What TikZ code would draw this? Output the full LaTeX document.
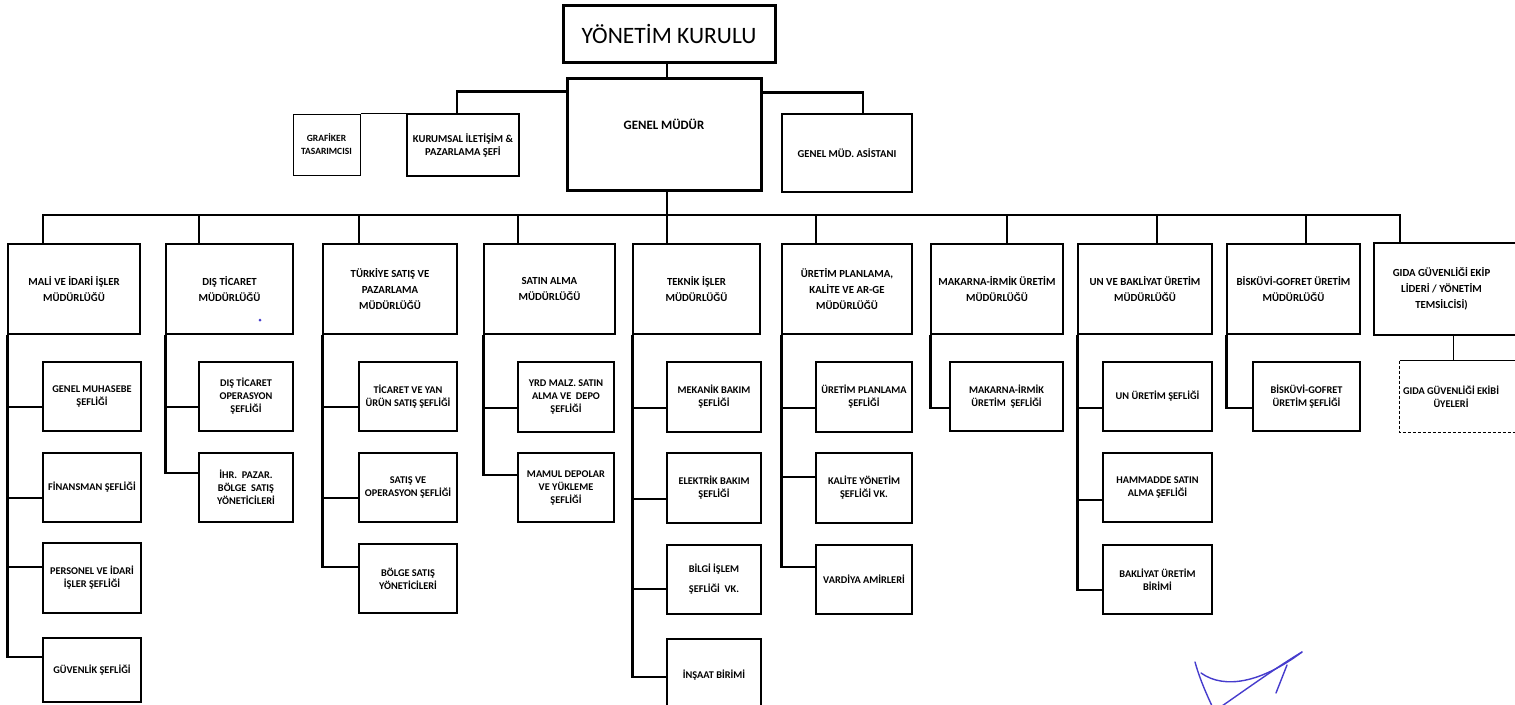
\documentclass[tikz,border=0pt]{standalone}
\usepackage{fontspec}
\setmainfont{Carlito}
\definecolor{sigblue}{RGB}{70,60,205}
\newcommand\orgbox[7]{\node[#1, minimum width={(#5-#3)*1pt}, minimum height={(#6-#4)*1pt}] (#2) at ({(#3+#5)/2},{(#4+#6)/2}) {#7};}
\newcommand\kid[3]{\draw[conn] ([xshift=1pt]#1.south west) |- (#2.west |- 0,#3);}
\begin{document}
\begin{tikzpicture}[x=1pt,y=-1pt,
  box/.style={draw, line width=2.7pt, align=center, inner sep=0pt, font=\bfseries\fontsize{10.3}{13}\selectfont},
  mgr/.style={box, font=\bfseries\fontsize{10.8}{16}\selectfont},
  thinbox/.style={box, line width=1pt},
  conn/.style={line width=2.7pt},
  thinconn/.style={line width=1pt},
  sig/.style={draw=sigblue, line width=1.4pt, line cap=round}]
\useasboundingbox (0,0) rectangle (1515,704);
\clip (0,0) rectangle (1515,704);
\fill[white] (0,0) rectangle (1515,704);

% top level
\orgbox{box, line width=3pt, font=\fontsize{23.5}{25}\selectfont}{kurulu}{563}{5}{775}{62}{YÖNETİM KURULU}
\orgbox{box, line width=3pt, font=\bfseries\fontsize{12.8}{14}\selectfont, text height=9pt, text depth=19pt}{gm}{567}{78}{761}{190}{GENEL MÜDÜR}
\orgbox{thinbox, font=\bfseries\fontsize{9.5}{13}\selectfont}{graf}{293}{114}{360}{175}{GRAFİKER\\TASARIMCISI}
\orgbox{box, font=\bfseries\fontsize{10.6}{13}\selectfont}{kurum}{407}{114}{519}{176}{KURUMSAL İLETİŞİM \&\\PAZARLAMA ŞEFİ}
\orgbox{box, line width=2.2pt, font=\bfseries\fontsize{10.6}{13}\selectfont}{asist}{782}{114}{912}{192}{GENEL MÜD. ASİSTANI}

\draw[conn] (kurulu.south -| 667,0) -- (gm.north -| 667,0);
\draw[conn] ([yshift=-15pt]gm.north west) -| ([xshift=-6pt]kurum.north);
\draw[conn] ([yshift=-16pt]gm.north east) -| ([xshift=16pt]asist.north);
\draw[thinconn] (graf.north east) -- (graf.north east -| kurum.west);

% managers
\orgbox{mgr}{mali}{8}{244}{140}{334}{MALİ VE İDARİ İŞLER\\MÜDÜRLÜĞÜ}
\orgbox{mgr}{dis}{166}{244}{293}{334}{DIŞ TİCARET\\MÜDÜRLÜĞÜ}
\orgbox{mgr}{tur}{323}{244}{457}{334}{TÜRKİYE SATIŞ VE\\PAZARLAMA\\MÜDÜRLÜĞÜ}
\orgbox{mgr}{sat}{484}{244}{615}{334}{SATIN ALMA\\MÜDÜRLÜĞÜ}
\orgbox{mgr}{tek}{633}{244}{760}{334}{TEKNİK İŞLER\\MÜDÜRLÜĞÜ}
\orgbox{mgr}{ure}{782}{244}{912}{334}{ÜRETİM PLANLAMA,\\KALİTE VE AR-GE\\MÜDÜRLÜĞÜ}
\orgbox{mgr}{mak}{931}{244}{1063}{334}{MAKARNA-İRMİK ÜRETİM\\MÜDÜRLÜĞÜ}
\orgbox{mgr}{un}{1078}{244}{1212}{334}{UN VE BAKLİYAT ÜRETİM\\MÜDÜRLÜĞÜ}
\orgbox{mgr}{bis}{1227}{244}{1360}{334}{BİSKÜVİ-GOFRET ÜRETİM\\MÜDÜRLÜĞÜ}
\orgbox{mgr, draw=none}{gida}{1375}{244}{1508}{334}{GIDA GÜVENLİĞİ EKİP\\LİDERİ / YÖNETİM\\TEMSİLCİSİ)}
\draw[line width=1.8pt] ([xshift=30pt]gida.north east) -- (gida.north west) -- (gida.south west) -- ([xshift=30pt]gida.south east);

% bus
\coordinate (bus) at (667,215);
\draw[conn] (gm.south -| bus) -- (bus);
\draw[conn] (bus) -| ([xshift=-31pt]mali.north);
\draw[conn] (bus) -| ([xshift=-30.5pt]dis.north);
\draw[conn] (bus) -| ([xshift=-31pt]tur.north);
\draw[conn] (bus) -| ([xshift=-31.5pt]sat.north);
\draw[conn] (bus) -| ([xshift=-29.5pt]tek.north);
\draw[conn] (bus) -| ([xshift=-31pt]ure.north);
\draw[conn] (bus) -| ([xshift=10pt]mak.north);
\draw[conn] (bus) -| ([xshift=12pt]un.north);
\draw[conn] (bus) -| ([xshift=12.5pt]bis.north);
\draw[conn] (bus) -| ([xshift=-41.5pt]gida.north);

% children: MALİ
\orgbox{box}{m1}{43}{362}{141}{431}{GENEL MUHASEBE\\ŞEFLİĞİ}
\orgbox{box}{m2}{43}{453}{141}{522}{FİNANSMAN ŞEFLİĞİ}
\orgbox{box}{m3}{43}{543}{141}{613}{PERSONEL VE İDARİ\\İŞLER ŞEFLİĞİ}
\orgbox{box}{m4}{43}{638}{141}{702}{GÜVENLİK ŞEFLİĞİ}
\kid{mali}{m1}{407}\kid{mali}{m2}{498}\kid{mali}{m3}{567}\kid{mali}{m4}{657}

% DIŞ
\orgbox{box}{d1}{199}{362}{293}{431}{DIŞ TİCARET\\OPERASYON\\ŞEFLİĞİ}
\orgbox{box}{d2}{199}{453}{293}{522}{İHR.\ \ PAZAR.\\BÖLGE\ \ SATIŞ\\YÖNETİCİLERİ}
\kid{dis}{d1}{407}\kid{dis}{d2}{473}

% TÜRKİYE
\orgbox{box}{t1}{359}{362}{457}{431}{TİCARET VE YAN\\ÜRÜN SATIŞ ŞEFLİĞİ}
\orgbox{box}{t2}{359}{453}{457}{522}{SATIŞ VE\\OPERASYON ŞEFLİĞİ}
\orgbox{box}{t3}{359}{544}{457}{613}{BÖLGE SATIŞ\\YÖNETİCİLERİ}
\kid{tur}{t1}{407}\kid{tur}{t2}{498}\kid{tur}{t3}{567}

% SATIN ALMA
\orgbox{box}{s1}{518}{362}{614}{432}{YRD MALZ. SATIN\\ALMA VE\ \ DEPO\\ŞEFLİĞİ}
\orgbox{box}{s2}{518}{453}{614}{522}{MAMUL DEPOLAR\\VE YÜKLEME\\ŞEFLİĞİ}
\kid{sat}{s1}{408}\kid{sat}{s2}{475}

% TEKNİK
\orgbox{box}{k1}{667}{362}{761}{432}{MEKANİK BAKIM\\ŞEFLİĞİ}
\orgbox{box}{k2}{667}{453}{761}{523}{ELEKTRİK BAKIM\\ŞEFLİĞİ}
\orgbox{box}{k3}{667}{545}{761}{614}{BİLGİ İŞLEM\\[7pt]ŞEFLİĞİ\ \ VK.}
\orgbox{box}{k4}{667}{639}{761}{712}{İNŞAAT BİRİMİ}
\kid{tek}{k1}{408}\kid{tek}{k2}{499}\kid{tek}{k3}{589}\kid{tek}{k4}{677}

% ÜRETİM PLANLAMA
\orgbox{box}{u1}{816}{362}{912}{432}{ÜRETİM PLANLAMA\\ŞEFLİĞİ}
\orgbox{box}{u2}{816}{453}{912}{523}{KALİTE YÖNETİM\\ŞEFLİĞİ VK.}
\orgbox{box}{u3}{816}{545}{912}{614}{VARDİYA AMİRLERİ}
\kid{ure}{u1}{408}\kid{ure}{u2}{477}\kid{ure}{u3}{567}

% MAKARNA
\orgbox{box}{mk1}{950}{362}{1063}{431}{MAKARNA-İRMİK\\ÜRETİM\ \ ŞEFLİĞİ}
\kid{mak}{mk1}{408}

% UN
\orgbox{box}{un1}{1103}{362}{1212}{431}{UN ÜRETİM ŞEFLİĞİ}
\orgbox{box}{un2}{1103}{453}{1212}{522}{HAMMADDE SATIN\\ALMA ŞEFLİĞİ}
\orgbox{box}{un3}{1103}{545}{1212}{614}{BAKLİYAT ÜRETİM\\BİRİMİ}
\kid{un}{un1}{408}\kid{un}{un2}{500}\kid{un}{un3}{590}

% BİSKÜVİ
\orgbox{box}{b1}{1253}{362}{1360}{431}{BİSKÜVİ-GOFRET\\ÜRETİM ŞEFLİĞİ}
\kid{bis}{b1}{408}

% GIDA
\orgbox{box, draw=none}{gc}{1401}{362}{1501}{431}{GIDA GÜVENLİĞİ EKİBİ\\ÜYELERİ}
\draw[thinconn] ([xshift=30pt]gc.north east) -- (gc.north west);
\draw[thinconn, densely dashed] (gc.north west) -- (gc.south west) -- ([xshift=30pt]gc.south east);
\draw[thinconn] ([xshift=11.5pt]gida.south) -- ([xshift=11.5pt]gida.south |- gc.north);

% marks
\fill[sigblue] (260,320) circle (1.5);
\draw[sig] (1195,662) .. controls (1200,680) and (1207,695) .. (1212,706);
\draw[sig] (1201,673) .. controls (1225,690) and (1262,682) .. (1302,652);
\draw[sig] (1302,652) .. controls (1280,665) and (1245,690) .. (1222,706);
\draw[sig] (1287,665) -- (1276,693);
\end{tikzpicture}
\end{document}
